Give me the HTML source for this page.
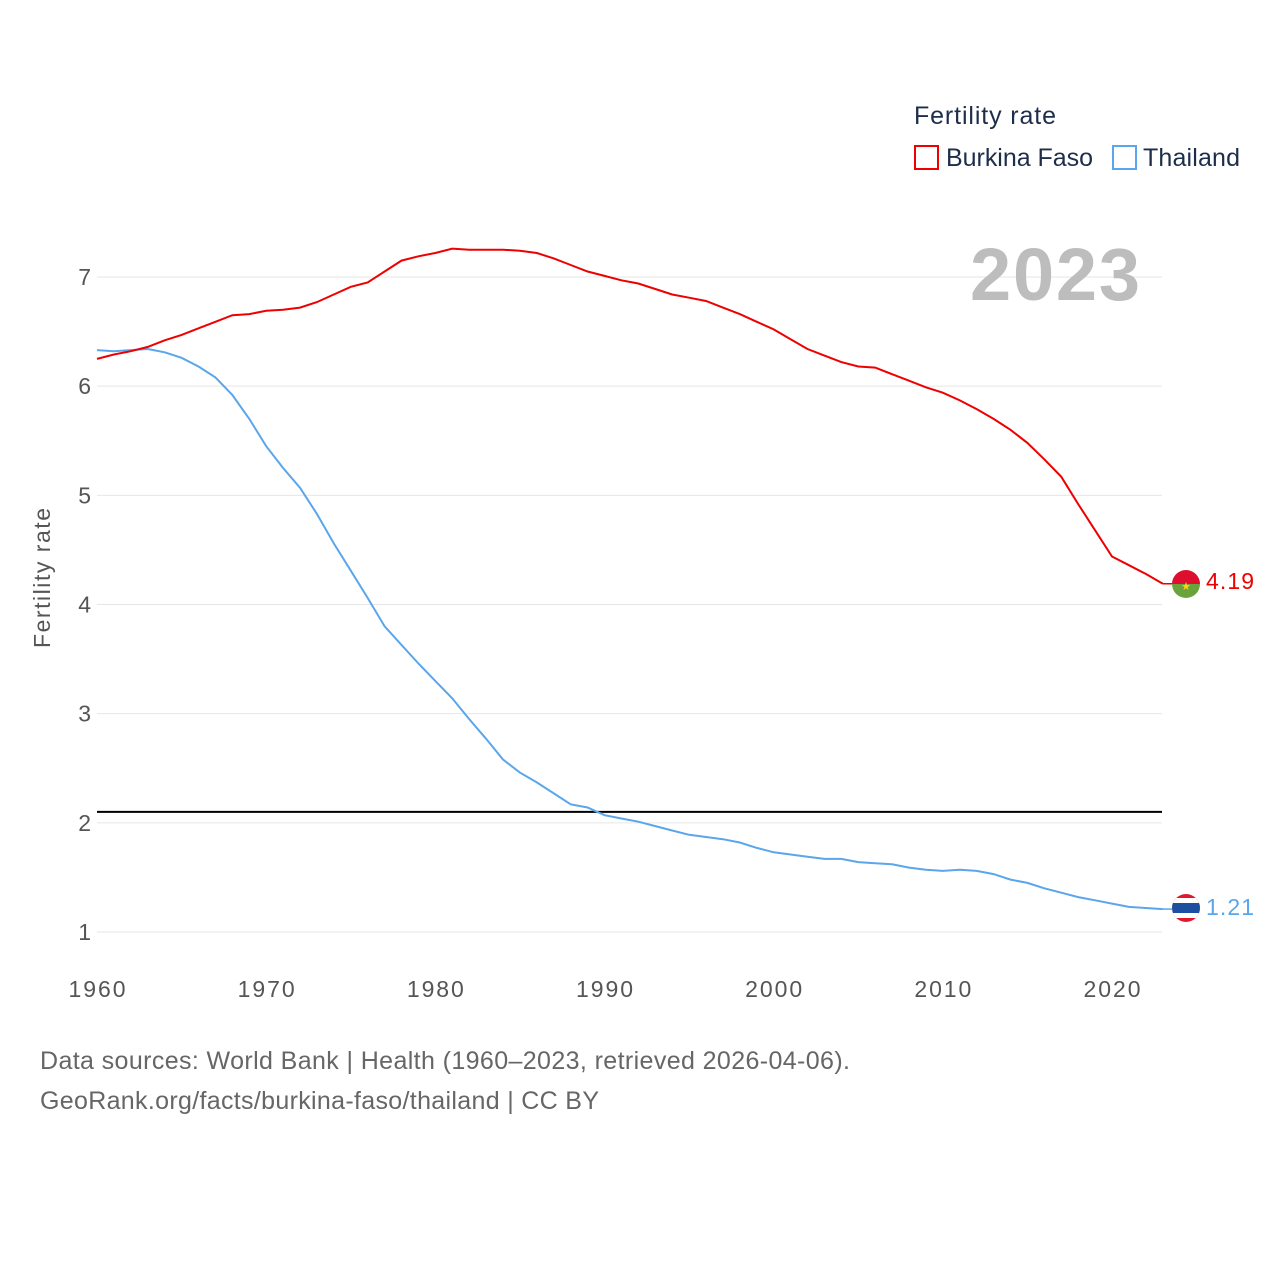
<!DOCTYPE html>
<html><head><meta charset="utf-8"><style>
body{margin:0;background:#fff;font-family:"Liberation Sans",sans-serif}
svg text{font-family:"Liberation Sans",sans-serif}
</style></head><body>
<svg id="chart" width="1280" height="1280" viewBox="0 0 1280 1280" xmlns="http://www.w3.org/2000/svg">
<defs>
<clipPath id="cb"><circle cx="1186" cy="584" r="14"/></clipPath>
<clipPath id="ct"><circle cx="1186" cy="908" r="14"/></clipPath>
</defs>
<g id="grid"></g>
<g id="lines"></g>
<text transform="translate(50,578) rotate(-90)" text-anchor="middle" font-size="23" fill="#555" textLength="140">Fertility rate</text>
<text x="914" y="124" font-size="25" fill="#1d2d4a" textLength="142">Fertility rate</text>
<rect x="915" y="146" width="23" height="23" fill="none" stroke="#e00" stroke-width="2"/>
<text x="946" y="166" font-size="25" fill="#1d2d4a" textLength="147">Burkina Faso</text>
<rect x="1113" y="146" width="23" height="23" fill="none" stroke="#5aa6ec" stroke-width="2"/>
<text x="1143" y="166" font-size="25" fill="#1d2d4a" textLength="97">Thailand</text>
<text x="1140" y="300" text-anchor="end" font-size="74" font-weight="bold" fill="#bdbdbd" textLength="170">2023</text>
<g clip-path="url(#cb)">
<rect x="1170" y="568" width="32" height="16" fill="#de0f2e"/><rect x="1170" y="584" width="32" height="16" fill="#6aa33b"/>
<text x="1186" y="590" text-anchor="middle" font-size="11" fill="#fcd116">★</text></g>
<g clip-path="url(#ct)">
<rect x="1170" y="892" width="32" height="32" fill="#e0182e"/><rect x="1170" y="898" width="32" height="20" fill="#fff"/><rect x="1170" y="903" width="32" height="10" fill="#1d4fa0"/></g>
<text x="1206" y="589" font-size="23" fill="#e00" textLength="48">4.19</text>
<text x="1206" y="915" font-size="23" fill="#5aa6ec" textLength="48">1.21</text>
<text x="40" y="1069" font-size="25" fill="#666" textLength="810">Data sources: World Bank | Health (1960–2023, retrieved 2026-04-06).</text>
<text x="40" y="1109" font-size="25" fill="#666" textLength="559">GeoRank.org/facts/burkina-faso/thailand | CC BY</text>
</svg>
<script>
const years=[];for(let y=1960;y<=2023;y++)years.push(y);
const burkina=[6.25,6.29,6.32,6.36,6.42,6.47,6.53,6.59,6.65,6.66,6.69,6.70,6.72,6.77,6.84,6.91,6.95,7.05,7.15,7.19,7.22,7.26,7.25,7.25,7.25,7.24,7.22,7.17,7.11,7.05,7.01,6.97,6.94,6.89,6.84,6.81,6.78,6.72,6.66,6.59,6.52,6.43,6.34,6.28,6.22,6.18,6.17,6.11,6.05,5.99,5.94,5.87,5.79,5.70,5.60,5.48,5.33,5.17,4.92,4.68,4.44,4.36,4.28,4.19];
const thailand=[6.33,6.32,6.33,6.34,6.31,6.26,6.18,6.08,5.92,5.70,5.45,5.25,5.07,4.83,4.56,4.31,4.06,3.80,3.63,3.46,3.30,3.14,2.95,2.77,2.58,2.46,2.37,2.27,2.17,2.14,2.07,2.04,2.01,1.97,1.93,1.89,1.87,1.85,1.82,1.77,1.73,1.71,1.69,1.67,1.67,1.64,1.63,1.62,1.59,1.57,1.56,1.57,1.56,1.53,1.48,1.45,1.40,1.36,1.32,1.29,1.26,1.23,1.22,1.21];
const yTicks=[1,2,3,4,5,6,7];
const xTicks=[1960,1970,1980,1990,2000,2010,2020];
const replacement=2.1;
const NS="http://www.w3.org/2000/svg";
const x=v=>97+(v-1960)*(1015/60);
const y=v=>932-(v-1)*(655/6);
const grid=document.getElementById('grid'),lines=document.getElementById('lines');
function mk(t,a,p){const e=document.createElementNS(NS,t);for(const k in a)e.setAttribute(k,a[k]);p.appendChild(e);return e;}
yTicks.forEach(t=>{
 const l=mk('line',{x1:97,x2:1162,y1:y(t),y2:y(t),stroke:'#e6e6e6','stroke-width':1},grid);
 
 
 const tx=mk('text',{x:91,y:y(t)+8,'text-anchor':'end','font-size':23,fill:'#555'},grid);tx.textContent=t;
 
 
});
xTicks.forEach(t=>{
 const tx=mk('text',{x:x(t),y:997,'text-anchor':'middle','font-size':23,fill:'#555',textLength:57},grid);tx.textContent=t;
 
 
});
const rl=mk('line',{x1:97,x2:1162,y1:y(replacement),y2:y(replacement),stroke:'#000','stroke-width':2},lines);


function path(d,c,n){
 const p=mk('path',{d:d.map((v,i)=>(i?'L':'M')+x(years[i]).toFixed(1)+','+y(v).toFixed(1)).join(''),fill:'none',stroke:c,'stroke-width':2},lines);
 
 
 const e=mk('line',{x1:x(2023),x2:1172,y1:y(d[d.length-1]),y2:y(d[d.length-1]),stroke:c,'stroke-width':1.5},lines);
 
 
}
path(thailand,'#5aa6ec','line-thailand');
path(burkina,'#ee0000','line-burkina');
</script>
</body></html>
